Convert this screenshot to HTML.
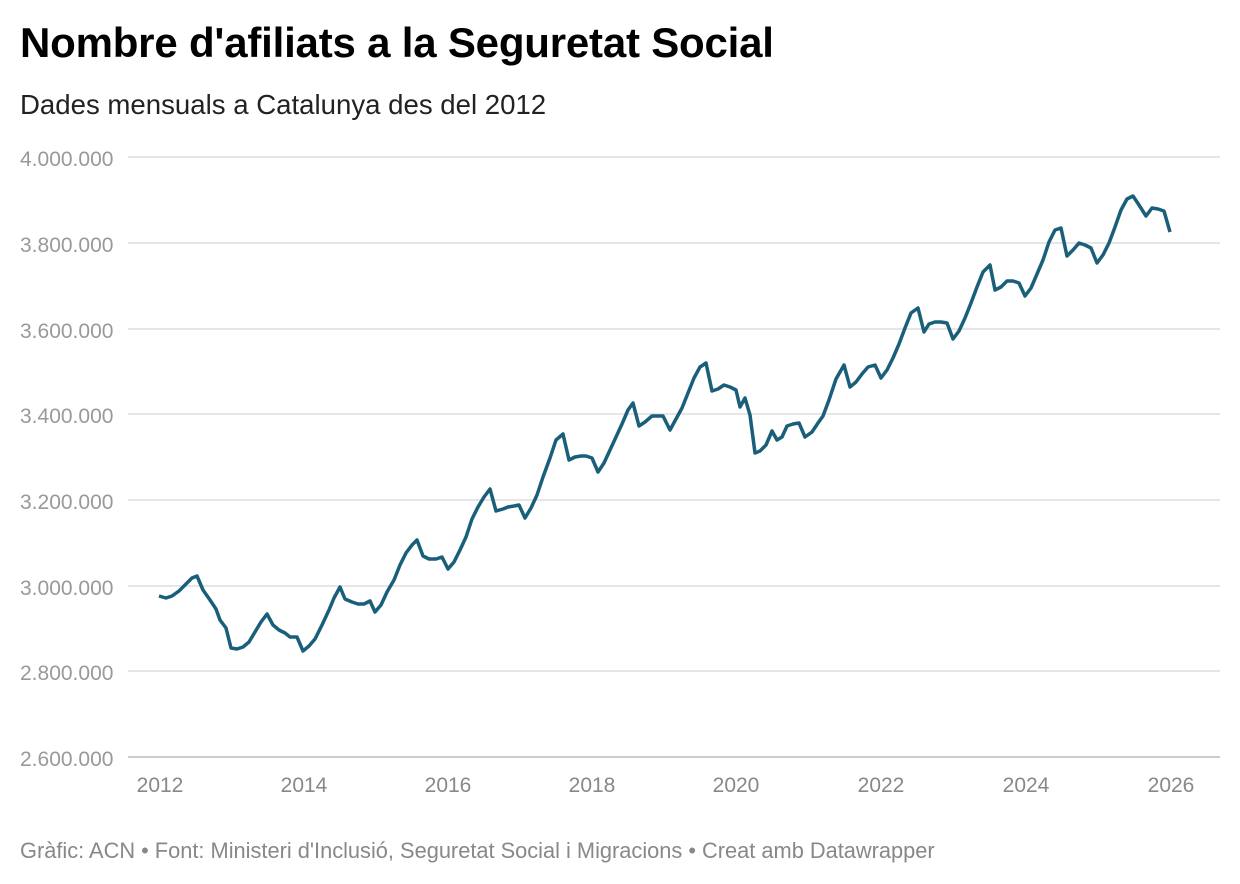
<!DOCTYPE html>
<html><head><meta charset="utf-8"><style>
body{margin:0;background:#fff;width:1240px;height:884px;overflow:hidden;font-family:"Liberation Sans",sans-serif}
.t{position:absolute;left:20px;top:19px;font-size:42px;font-weight:bold;color:#000;letter-spacing:-0.2px;white-space:nowrap}
.s{position:absolute;left:20px;top:89px;font-size:27.6px;color:#222;white-space:nowrap}
.f{position:absolute;left:20px;top:838px;font-size:21.8px;color:#888;white-space:nowrap}
</style></head><body>
<div class="t">Nombre d'afiliats a la Seguretat Social</div>
<div class="s">Dades mensuals a Catalunya des del 2012</div>
<svg style="position:absolute;left:0;top:0" width="1240" height="884">
<g stroke="#ddd" stroke-width="1.5">
<line x1="128" x2="1220" y1="157" y2="157"/><line x1="128" x2="1220" y1="243" y2="243"/>
<line x1="128" x2="1220" y1="329" y2="329"/><line x1="128" x2="1220" y1="414" y2="414"/>
<line x1="128" x2="1220" y1="500" y2="500"/><line x1="128" x2="1220" y1="586" y2="586"/>
<line x1="128" x2="1220" y1="671" y2="671"/></g>
<line x1="128" x2="1220" y1="757" y2="757" stroke="#bbb" stroke-width="1.5"/>
<g font-size="21" fill="#999" font-family="Liberation Sans,sans-serif">
<text x="20" y="166">4.000.000</text><text x="20" y="252">3.800.000</text>
<text x="20" y="338">3.600.000</text><text x="20" y="423">3.400.000</text>
<text x="20" y="509">3.200.000</text><text x="20" y="595">3.000.000</text>
<text x="20" y="680">2.800.000</text><text x="20" y="766">2.600.000</text>
</g>
<g font-size="21" fill="#888" text-anchor="middle">
<text x="160" y="792">2012</text><text x="304" y="792">2014</text><text x="448" y="792">2016</text>
<text x="592" y="792">2018</text><text x="736" y="792">2020</text><text x="881" y="792">2022</text>
<text x="1026" y="792">2024</text><text x="1171" y="792">2026</text></g>
<polyline fill="none" stroke="#1a5f7a" stroke-width="3.5" stroke-linejoin="round" points="159,596 166,598 172,596 179,591 185,585 192,578 197,576 203,590 210,600 216,609 220,620 226,628 231,648 237,649 243,647 249,642 255,632 261,622 267,614 273,625 279,630 285,633 290,637 297,637 303,651 309,646 315,639 322,625 329,610 334,598 340,587 345,599 352,602 358,604 364,604 370,601 375,612 381,605 387,592 394,580 400,565 406,553 412,545 417,540 423,556 429,559 436,559 442,557 448,569 454,562 460,550 466,537 472,519 478,507 484,497 490,489 496,511 503,509 508,507 514,506 519,505 525,518 531,508 537,495 543,477 550,458 556,440 563,434 569,460 575,457 581,456 586,456 592,458 598,472 604,463 610,450 616,437 622,424 628,410 633,403 639,426 645,422 652,416 658,416 663,416 670,430 676,419 682,408 688,393 694,378 700,367 706,363 712,391 718,389 724,385 730,387 736,390 740,407 745,398 750,415 755,453 760,451 766,445 772,431 777,440 782,437 787,426 793,424 799,423 805,437 812,432 818,423 823,416 829,400 836,379 844,365 850,387 856,382 862,374 868,367 875,365 881,378 887,370 893,358 899,344 905,328 911,313 918,308 924,332 929,324 935,322 941,322 947,323 953,339 959,331 965,318 971,303 977,287 983,272 990,265 995,290 1001,287 1007,281 1013,281 1019,283 1025,296 1031,288 1037,274 1043,260 1049,242 1055,230 1061,228 1067,256 1073,250 1079,243 1085,245 1091,248 1097,263 1103,255 1109,243 1115,227 1121,210 1127,199 1133,196 1139,205 1146,216 1152,208 1158,209 1164,211 1170,232"/>
</svg>
<div class="f">Gràfic: ACN • Font: Ministeri d'Inclusió, Seguretat Social i Migracions • Creat amb Datawrapper</div>
</body></html>
